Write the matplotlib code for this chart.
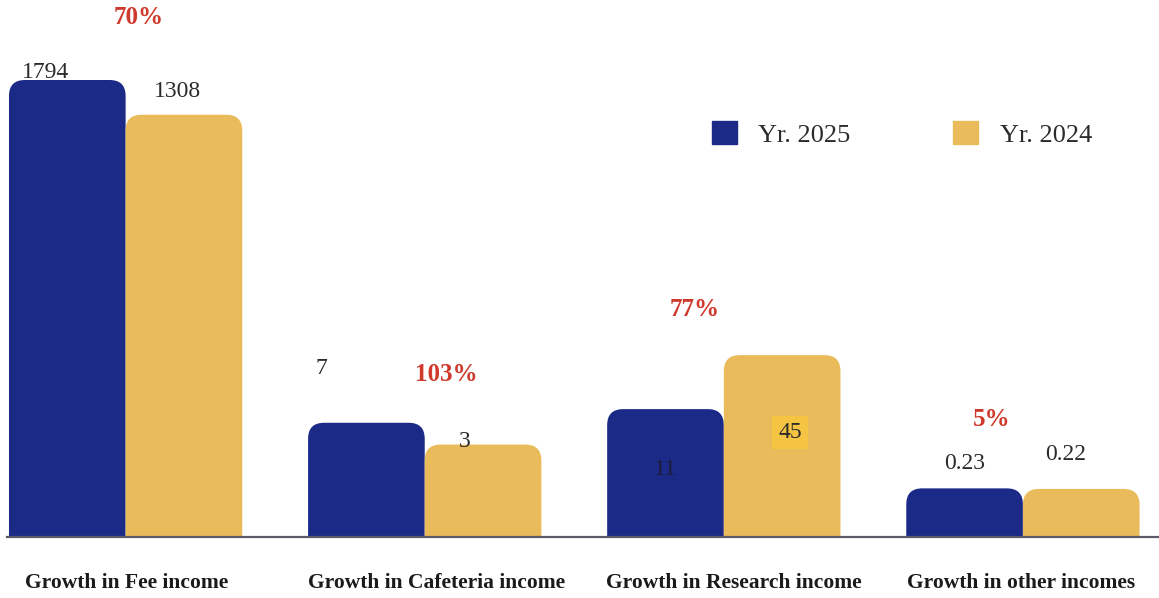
import numpy as np
import matplotlib.pyplot as plt
from matplotlib.patches import FancyBboxPatch
from matplotlib.transforms import blended_transform_factory

categories = ["Growth in Fee income", "Growth in Cafeteria income",
              "Growth in Research income", "Growth in other incomes"]
yr_2025 = [1794, 7, 11, 0.23]
yr_2024 = [1308, 3, 45, 0.22]
growth = ["70%", "103%", "77%", "5%"]
series_names = ["Yr. 2025", "Yr. 2024"]

BLUE = "#1b2a86"
GOLD = "#eabb5a"
RED = "#cf3a2c"
TEXT = "#2b2b2b"

plt.rcParams["font.family"] = ["Liberation Serif", "DejaVu Serif"]

W, H = 1159, 598
fig = plt.figure(figsize=(W / 100, H / 100), dpi=100)
ax = fig.add_axes([0, 61 / H, 1, 537 / H])
ax_w, ax_h = W, 537


# compressed value axis so the small incomes stay visible next to fees
def fwd(v):
    v = np.asarray(v, dtype=float)
    return np.sign(v) * np.abs(v) ** 0.25


def inv(v):
    v = np.asarray(v, dtype=float)
    return np.sign(v) * np.abs(v) ** 4


ax.set_yscale("function", functions=(fwd, inv))
ax.set_ylim(0, float(inv(fwd(1794) * 537 / 457)))
ax.set_xlim(-0.42, 3.455)

x = np.arange(len(categories))
bw = 0.39
bars_a = ax.bar(x - bw / 2, yr_2025, bw, color=BLUE, label=series_names[0])
bars_b = ax.bar(x + bw / 2, yr_2024, bw, color=GOLD, label=series_names[1])

# swap the plain rectangles for ones with rounded top corners
to_axes = ax.transData + ax.transAxes.inverted()
radius = 16 / ax_w
for rect in list(bars_a) + list(bars_b):
    (x0, y0), (x1, y1) = to_axes.transform(
        [(rect.get_x(), 0), (rect.get_x() + rect.get_width(), rect.get_height())])
    y0 = -0.05
    rounded = FancyBboxPatch((x0, y0), x1 - x0, y1 - y0,
                             boxstyle=f"round,pad=0,rounding_size={radius}",
                             mutation_aspect=ax_w / ax_h,
                             transform=ax.transAxes, facecolor=rect.get_facecolor(),
                             edgecolor="none", zorder=2)
    ax.add_patch(rounded)
    rect.set_visible(False)

ax.axhline(0, xmin=7 / W, xmax=1, color="#5a5c6a", lw=1.6, zorder=3, clip_on=False)

# value labels, offsets in pixels from the top centre of each bar
off_a = [(-22, 8), (-45, 54), (0, -60), (0, 25)]
off_b = [(-6, 23), (-18, 3), (8, -77), (-16, 34)]
for i in range(len(categories)):
    ax.annotate(f"{yr_2025[i]:g}", (x[i] - bw / 2, yr_2025[i]), xytext=off_a[i],
                textcoords="offset pixels", ha="center", va="center",
                fontsize=17, color="#1c1c3a" if i == 2 else TEXT, zorder=4)
    box = None
    if i == 2:
        box = dict(boxstyle="square,pad=0.25", facecolor="#f6c443", edgecolor="none")
    ax.annotate(f"{yr_2024[i]:g}", (x[i] + bw / 2, yr_2024[i]), xytext=off_b[i],
                textcoords="offset pixels", ha="center", va="center",
                fontsize=17, color=TEXT, bbox=box, zorder=4)

# growth percentages above each pair
off_pct = [(13, 63), (22, 48), (-29, 46), (-31, 69)]
for i in range(len(categories)):
    top = max(yr_2025[i], yr_2024[i])
    ax.annotate(growth[i], (x[i], top), xytext=off_pct[i], textcoords="offset pixels",
                ha="center", va="center", fontsize=18, fontweight="bold",
                color=RED, zorder=4)

trans = blended_transform_factory(ax.transData, fig.transFigure)
label_dx = [0.005, 0.04, 0.035, -0.005]
for i, name in enumerate(categories):
    ax.text(x[i] + label_dx[i], 1 - 583 / H, name, transform=trans, ha="center",
            va="center", fontsize=15.5, fontweight="bold", color="#1a1a1a")

leg = fig.legend(handles=[plt.Rectangle((0, 0), 1, 1, color=BLUE),
                          plt.Rectangle((0, 0), 1, 1, color=GOLD)],
                 labels=series_names, loc="center left",
                 bbox_to_anchor=(712 / W, 1 - 134 / H), ncol=2, frameon=False,
                 fontsize=19, handlelength=0.95, handleheight=0.95,
                 handletextpad=0.8, columnspacing=3.9, borderpad=0,
                 borderaxespad=0, labelcolor=TEXT)

ax.axis("off")
fig.savefig("out.png", dpi=100, facecolor="white")
